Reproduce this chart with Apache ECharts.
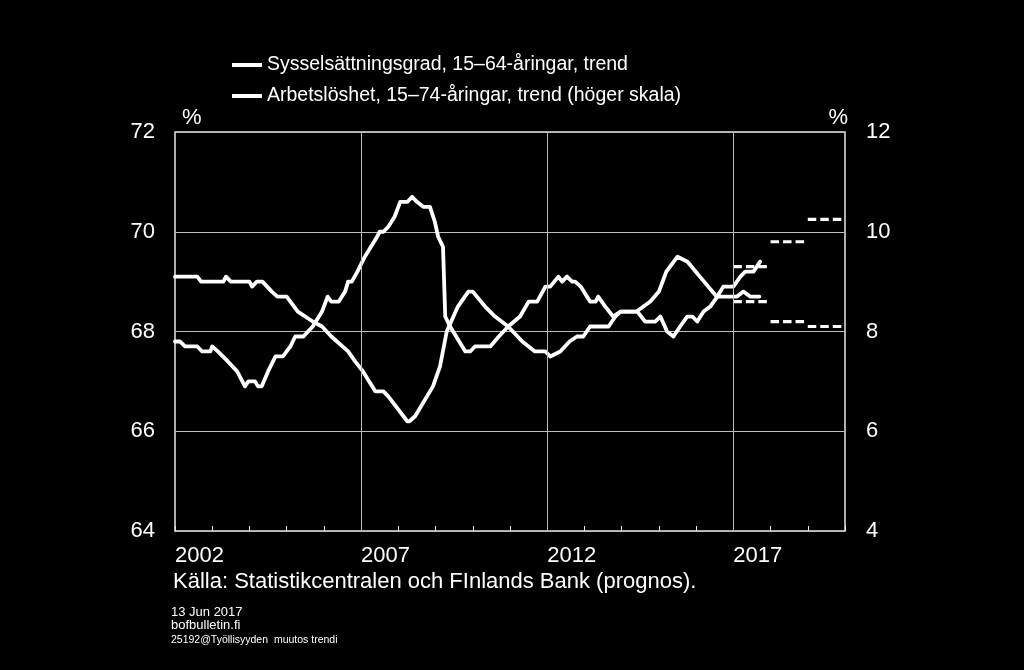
<!DOCTYPE html>
<html>
<head>
<meta charset="utf-8">
<script src="https://cdn.jsdelivr.net/npm/echarts@6/dist/echarts.min.js"></script>
<style>
html,body{margin:0;padding:0;background:#000;}
#chart{width:1024px;height:670px;}
</style>
</head>
<body>
<div id="chart"></div>
<script>
// ---- Data ----
const empName = 'Sysselsättningsgrad, 15–64-åringar, trend';
const unName = 'Arbetslöshet, 15–74-åringar, trend (höger skala)';

// Employment rate 15-64, trend (left axis, %)
const empT = [2002.0,2002.13,2002.27,2002.6,2002.73,2002.95,2003.0,2003.15,2003.42,2003.67,2003.88,2003.97,2004.15,2004.23,2004.33,2004.5,2004.7,2004.9,2005.1,2005.23,2005.45,2005.7,2005.95,2006.1,2006.2,2006.4,2006.57,2006.65,2006.75,2006.9,2007.1,2007.43,2007.5,2007.6,2007.73,2007.9,2008.05,2008.25,2008.37,2008.5,2008.67,2008.85,2008.98,2009.07,2009.2,2009.26,2009.39,2009.8,2009.93,2010.06,2010.47,2010.7,2010.95,2011.27,2011.5,2011.73,2011.95,2012.08,2012.3,2012.4,2012.53,2012.67,2012.75,2012.9,2013.15,2013.3,2013.37,2013.56,2013.77,2013.97,2014.42,2014.63,2014.9,2015.04,2015.22,2015.39,2015.57,2015.76,2015.9,2016.03,2016.2,2016.38,2016.57,2016.73,2017.0,2017.19,2017.32,2017.54,2017.72];
const empV = [67.8,67.8,67.7,67.7,67.6,67.6,67.7,67.6,67.4,67.2,66.9,67.0,67.0,66.9,66.9,67.2,67.5,67.5,67.7,67.9,67.9,68.1,68.4,68.7,68.6,68.6,68.8,69.0,69.0,69.2,69.5,69.9,70.0,70.0,70.1,70.3,70.6,70.6,70.7,70.6,70.5,70.5,70.2,69.9,69.7,68.3,68.1,67.6,67.6,67.7,67.7,67.9,68.1,68.3,68.6,68.6,68.9,68.9,69.1,69.0,69.1,69.0,69.0,68.9,68.6,68.6,68.7,68.5,68.3,68.4,68.4,68.2,68.2,68.3,68.0,67.9,68.1,68.3,68.3,68.2,68.4,68.5,68.7,68.9,68.9,69.1,69.2,69.2,69.4];

// Unemployment 15-74, trend (right axis, %)
const unT = [2002.0,2002.6,2002.7,2003.3,2003.37,2003.5,2004.0,2004.07,2004.2,2004.35,2004.6,2004.75,2005.0,2005.3,2005.7,2005.95,2006.2,2006.65,2006.84,2007.05,2007.38,2007.6,2007.73,2008.24,2008.3,2008.45,2008.93,2009.12,2009.3,2009.6,2009.88,2010.0,2010.33,2010.6,2010.95,2011.33,2011.67,2011.95,2012.08,2012.35,2012.6,2012.8,2012.97,2013.15,2013.65,2013.83,2013.97,2014.4,2014.77,2015.0,2015.2,2015.5,2015.77,2016.1,2016.55,2016.9,2017.1,2017.27,2017.45,2017.7];
const unV = [9.1,9.1,9.0,9.0,9.1,9.0,9.0,8.9,9.0,9.0,8.8,8.7,8.7,8.4,8.2,8.1,7.9,7.6,7.4,7.2,6.8,6.8,6.7,6.2,6.2,6.3,6.9,7.3,8.0,8.5,8.8,8.8,8.5,8.3,8.1,7.8,7.6,7.6,7.5,7.6,7.8,7.9,7.9,8.1,8.1,8.3,8.4,8.4,8.6,8.8,9.2,9.5,9.4,9.1,8.7,8.7,8.7,8.8,8.7,8.7];

// Forecast (annual, dashed)
const fcYears = [2017, 2018, 2019];
const empFc = [69.3, 69.8, 70.25];
const unFc = [8.6, 8.2, 8.1];

// Axis labels / grid years
const labelYears = [2002, 2007, 2012, 2017];
const gridYears = [2007, 2012, 2017];

const sourceText = 'Källa: Statistikcentralen och FInlands Bank (prognos).';
const footer1 = '13 Jun 2017';
const footer2 = 'bofbulletin.fi';
const footer3 = '25192@Työllisyyden  muutos trendi';

// ---- Chart ----
const FONT = '"Liberation Sans", Arial, sans-serif';
const pairs = (xs, ys) => xs.map((x, i) => [x, ys[i]]);
const steps = (ys) => {
  const out = [];
  fcYears.forEach((y, i) => { out.push([y, ys[i]], [y + 1, ys[i]], [y + 1, '-']); });
  return out;
};

const chart = echarts.init(document.getElementById('chart'), null, {renderer: 'canvas'});
const gridColor = '#bdbdbd';
const lineW = 3.8;

chart.setOption({
  backgroundColor: '#000',
  animation: false,
  textStyle: {fontFamily: FONT, color: '#fff'},
  grid: {left: 175, right: 179, top: 132, bottom: 139, show: true, borderColor: '#e8e8e8', borderWidth: 1.5, containLabel: false},
  legend: {
    data: [empName, unName],
    orient: 'vertical',
    left: 227, top: 50,
    itemWidth: 30, itemHeight: 4, itemGap: 11,
    icon: 'rect',
    textStyle: {color: '#fff', fontSize: 19.5, fontFamily: FONT}
  },
  xAxis: [{
    type: 'value', min: 2002, max: 2020, interval: 1,
    axisLine: {show: false},
    axisTick: {show: true, inside: true, length: 5, lineStyle: {color: '#e8e8e8', width: 1}},
    axisLabel: {
      show: true, color: '#fff', fontSize: 22, fontFamily: FONT, margin: 14, align: 'left',
      showMinLabel: true, showMaxLabel: true,
      formatter: v => labelYears.indexOf(Math.round(v)) >= 0 ? String(Math.round(v)) : ''
    },
    splitLine: {show: false}
  }],
  yAxis: [{
    type: 'value', min: 64, max: 72, interval: 2, position: 'left',
    name: '%', nameLocation: 'end', nameGap: 3,
    nameTextStyle: {color: '#fff', fontSize: 22, fontFamily: FONT, align: 'left', padding: [0, 0, 0, 7]},
    axisLine: {show: false}, axisTick: {show: false},
    axisLabel: {color: '#fff', fontSize: 22, fontFamily: FONT, margin: 20},
    splitLine: {show: true, lineStyle: {color: gridColor, width: 1}}
  }, {
    type: 'value', min: 4, max: 12, interval: 2, position: 'right',
    name: '%', nameLocation: 'end', nameGap: 3,
    nameTextStyle: {color: '#fff', fontSize: 22, fontFamily: FONT, align: 'right', padding: [0, -3, 0, 0]},
    axisLine: {show: false}, axisTick: {show: false},
    axisLabel: {color: '#fff', fontSize: 22, fontFamily: FONT, margin: 21},
    splitLine: {show: false}
  }],
  series: [{
    name: 'grid', type: 'line', data: [], z: 1, silent: true,
    markLine: {
      silent: true, symbol: 'none', label: {show: false},
      lineStyle: {color: gridColor, width: 1, type: 'solid'},
      data: gridYears.map(y => ({xAxis: y}))
    }
  }, {
    name: empName, type: 'line', xAxisIndex: 0, yAxisIndex: 0,
    data: pairs(empT, empV), showSymbol: false, symbol: 'none', z: 3,
    lineStyle: {color: '#fff', width: lineW, join: 'round', cap: 'round'}, itemStyle: {color: '#fff'}
  }, {
    name: unName, type: 'line', xAxisIndex: 0, yAxisIndex: 1,
    data: pairs(unT, unV), showSymbol: false, symbol: 'none', z: 3,
    lineStyle: {color: '#fff', width: lineW, join: 'round', cap: 'round'}, itemStyle: {color: '#fff'}
  }, {
    name: 'Sysselsättningsgrad prognos', type: 'line', xAxisIndex: 0, yAxisIndex: 0,
    data: steps(empFc), showSymbol: false, symbol: 'none', connectNulls: false, z: 3,
    lineStyle: {color: '#fff', width: 3.2, type: [8.5, 4]}, itemStyle: {color: '#fff'}
  }, {
    name: 'Arbetslöshet prognos', type: 'line', xAxisIndex: 0, yAxisIndex: 1,
    data: steps(unFc), showSymbol: false, symbol: 'none', connectNulls: false, z: 3,
    lineStyle: {color: '#fff', width: 3.2, type: [8.5, 4]}, itemStyle: {color: '#fff'}
  }],
  graphic: [
    {type: 'text', left: 173, top: 571, style: {text: sourceText, fill: '#fff', font: '22px ' + FONT}},
    {type: 'text', left: 171, top: 606, style: {text: footer1, fill: '#fff', font: '13px ' + FONT}},
    {type: 'text', left: 171, top: 619, style: {text: footer2, fill: '#fff', font: '13px ' + FONT}},
    {type: 'text', left: 171, top: 635, style: {text: footer3, fill: '#fff', font: '10.5px ' + FONT}}
  ]
});
</script>
</body>
</html>
